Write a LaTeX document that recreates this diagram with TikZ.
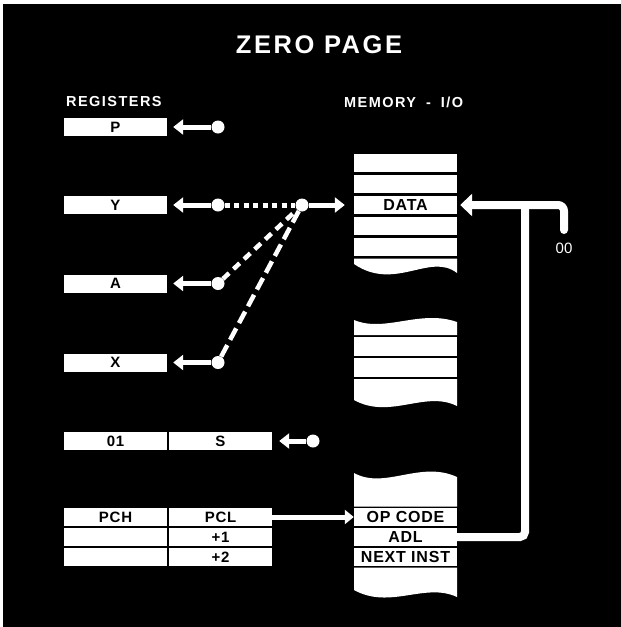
\documentclass[tikz,border=0pt]{standalone}
\usepackage{fontspec}
\setmainfont{Liberation Sans}
\newfontfamily\spaced[LetterSpace=10]{Liberation Sans}
\newfontfamily\tight[LetterSpace=5]{Liberation Sans}
\usetikzlibrary{arrows.meta}

\begin{document}
\begin{tikzpicture}[x=1pt, y=-1pt,
    head/.style={text=white, inner sep=0pt, font=\spaced\bfseries\fontsize{14.5}{14.5}\selectfont},
    reg/.style={fill=white, minimum width=103pt, minimum height=18pt, inner sep=0pt,
                font=\tight\bfseries\fontsize{15}{15}\selectfont},
    mem/.style={fill=white, minimum width=103pt, minimum height=18.5pt, inner sep=0pt,
                font=\tight\bfseries\fontsize{16}{16}\selectfont},
    knob/.style={circle, fill=white, inner sep=0pt, minimum size=13pt},
    wire/.style={white, line width=5pt},
    bus/.style={white, line width=8pt},
    headed/.style={-{Triangle[width=15pt, length=10pt]}},
    dotline/.style={white, line width=5pt, dash pattern=on 5pt off 4.5pt},
    dashline/.style={white, line width=4.5pt, dash pattern=on #1 off 6pt}]
    \useasboundingbox (0,0) rectangle (621,627);

    % Background
    \fill[white] (0,0) rectangle (621,627);
    \fill[black] (3,4) rectangle (621,627);

    % Titles
    \node[head, font=\spaced\bfseries\fontsize{25.5}{25.5}\selectfont] (title) at (319,45) {ZERO PAGE};
    \node[head, anchor=west] (reghead) at (66,102) {REGISTERS};
    \node[head, anchor=west] (memhead) at (344,102) {MEMORY\hspace{10pt}-\hspace{10pt}I/O};

    % Registers
    \node[reg] (P) at (115.5,127) {P};
    \node[reg] (Y) at (115.5,205) {Y};
    \node[reg] (A) at (115.5,283.5) {A};
    \node[reg] (X) at (115.5,362.5) {X};
    \node[reg] (O1) at (115.5,441) {01};
    \node[reg] (S) at (220.5,441) {S};
    \node[reg] (PCH) at (115.5,517) {PCH};
    \node[reg] (PCL) at (220.5,517) {PCL};
    \node[reg] (PCH1) at (115.5,537) {};
    \node[reg] (PCL1) at (220.5,537) {+1};
    \node[reg] (PCH2) at (115.5,557) {};
    \node[reg] (PCL2) at (220.5,557) {+2};

    % Memory, top block
    \node[mem] (t1) at (405.5,163) {};
    \node[mem] (t2) at (405.5,184) {};
    \node[mem] (data) at (405.5,205) {DATA};
    \node[mem] (t4) at (405.5,226) {};
    \node[mem] (t5) at (405.5,247) {};
    \fill[white] (354,258.5) -- (457,258.5) -- (457,273) .. controls (430,252) and (395,292) .. (354,264) -- cycle;

    % Memory, middle block
    \fill[white] (354,320) .. controls (385,333) and (420,309) .. (457,322) -- (457,335) -- (354,335) -- cycle;
    \node[mem] (c1) at (405.5,346.5) {};
    \node[mem] (c2) at (405.5,367.5) {};
    \fill[white] (354,379) -- (457,379) -- (457,406) .. controls (425,390) and (390,420) .. (354,400) -- cycle;

    % Memory, bottom block
    \fill[white] (354,473) .. controls (385,490) and (420,460) .. (457,477) -- (457,506.5) -- (354,506.5) -- cycle;
    \node[mem] (opcode) at (405.5,517) {OP CODE};
    \node[mem] (adl) at (405.5,537) {ADL};
    \node[mem] (next) at (405.5,557) {NEXT INST};
    \fill[white] (354,567.5) -- (457,567.5) -- (457,597) .. controls (425,582) and (390,610) .. (354,590) -- cycle;

    % Knobs
    \node[knob] (Pdot) at (218,127) {};
    \node[knob] (Ydot) at (218,205) {};
    \node[knob] (Adot) at (218,283.5) {};
    \node[knob] (Xdot) at (218,362.5) {};
    \node[knob] (Sdot) at (313,441) {};
    \node[knob] (busdot) at (302,205) {};

    % Data paths to registers
    \draw[wire, headed, shorten >=6pt] (Pdot) -- (P);
    \draw[wire, headed, shorten >=6pt] (Ydot) -- (Y);
    \draw[wire, headed, shorten >=6pt] (Adot) -- (A);
    \draw[wire, headed, shorten >=6pt] (Xdot) -- (X);
    \draw[wire, headed, shorten >=7pt] (Sdot) -- (S);
    \draw[dotline] (Ydot) -- (busdot);
    \draw[dashline=8.5pt] (Adot) -- (busdot);
    \draw[dashline=13pt] (Xdot) -- (busdot);
    \draw[wire, headed, shorten >=9pt] (busdot) -- (data.west |- busdot);

    % Program counter to op code
    \draw[wire, -{Triangle[width=14pt, length=9pt]}] (PCL) -- (opcode);

    % Address lines
    \coordinate (tee) at (525,205);
    \coordinate (zero) at (564,230);
    \draw[bus, rounded corners=5pt] (adl.east) -| (tee);
    \draw[bus, line cap=round, rounded corners=6pt, -{Triangle[width=22pt, length=12pt]}, shorten >=3pt] (zero) |- (data.east);
    \node[text=white, inner sep=0pt, font=\fontsize{15}{15}\selectfont] (hibyte) at (564,248) {00};
\end{tikzpicture}
\end{document}
